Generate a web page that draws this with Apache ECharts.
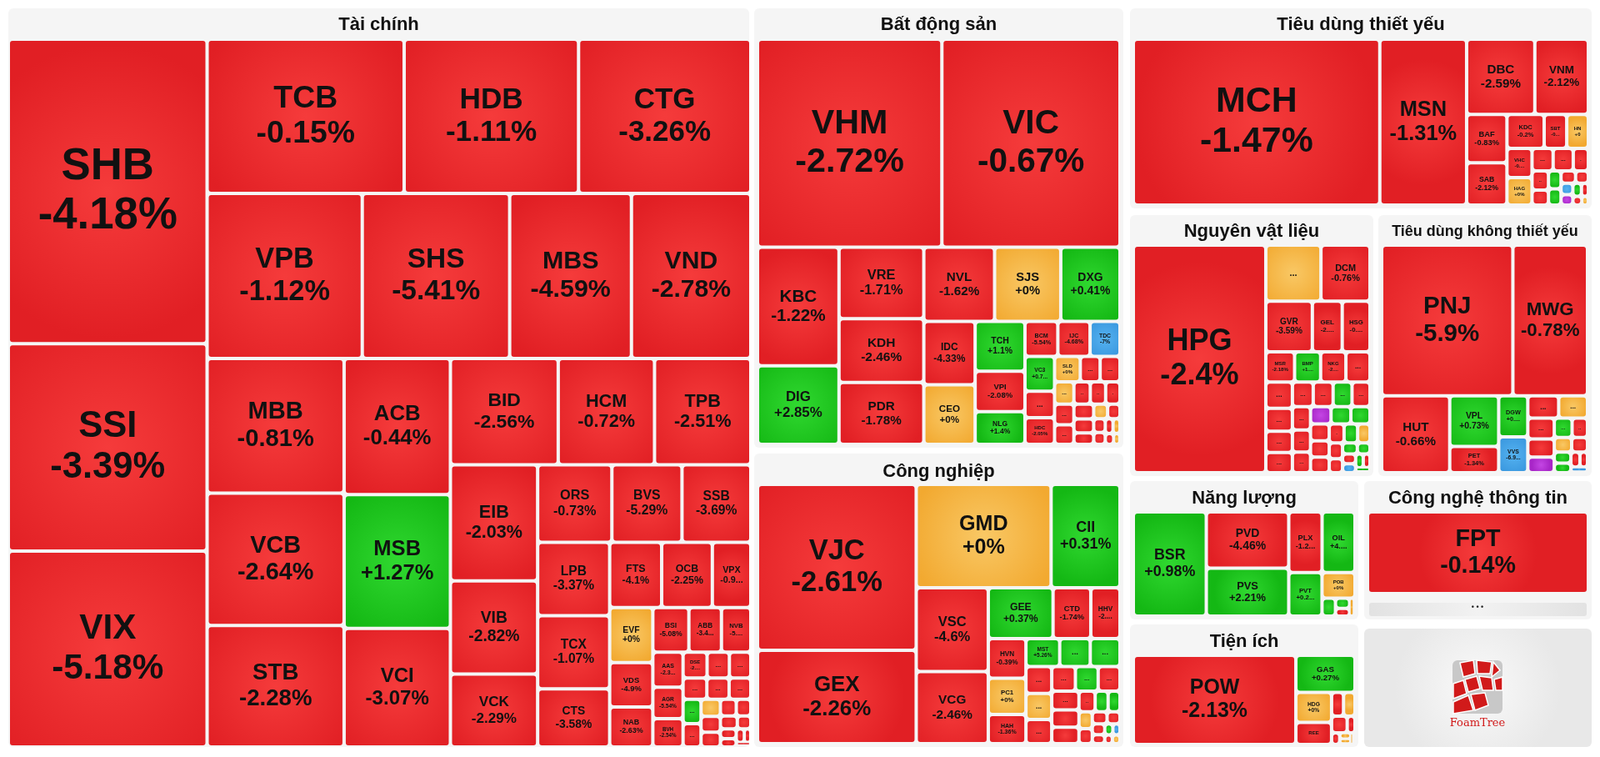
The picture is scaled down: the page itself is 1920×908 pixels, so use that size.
<!DOCTYPE html>
<html><head><meta charset="utf-8">
<script src="https://cdn.jsdelivr.net/npm/echarts@6/dist/echarts.min.js"></script>
<style>html,body{margin:0;padding:0;background:#fff}#c{width:1920px;height:908px}</style>
</head><body><div id="c"></div>
<script>
// [ticker, size (relative market cap), % change]; '...' = unlabeled small stock (change estimated from colour)
const taiChinh = [
 ['SHB',54950,-4.18],['SSI',37400,-3.39],['VIX',35340,-5.18],['TCB',27590,-0.15],
 ['HDB',24420,-1.11],['CTG',24120,-3.26],['VPB',23240,-1.12],['SHS',22080,-5.41],
 ['MBS',18240,-4.59],['VND',17880,-2.78],['MBB',16760,-0.81],['VCB',16460,-2.64],
 ['STB',15100,-2.28],['ACB',13140,-0.44],['MSB',12900,1.27],['VCI',11450,-3.07],
 ['BID',10400,-2.56],['TPB',9290,-2.51],['HCM',9290,-0.72],['EIB',9200,-2.03],
 ['VIB',7370,-2.82],['VCK',5780,-2.29],['ORS',5230,-0.73],['BVS',4940,-5.29],
 ['SSB',4850,-3.69],['TCX',4790,-1.07],['LPB',4790,-3.37],['CTS',3800,-3.58],
 ['FTS',3080,-4.1],['OCB',3000,-2.25],['VPX',2280,-0.92],['EVF',2150,0],
 ['VDS',1740,-4.9],['NAB',1570,-2.63],['BSI',1460,-5.08],['ABB',1320,-3.41],
 ['NVB',1190,-5.07],['AAS',960,-2.33],['AGR',860,-5.54],['BVH',780,-2.54],
 ['DSE',560,-2.62],['...',520,-1],['...',500,-1],['...',460,-1],['...',430,-1],
 ['...',420,-1],['...',400,1],['...',380,-1],['...',300,0],['...',280,-1],
 ['...',260,-1],['...',240,-1],['...',220,-1],['...',200,-1],['...',160,-1],
 ['...',140,-1],['...',120,-1],['...',100,-1],['...',80,-1],['...',60,-1]
];
const batDongSan = [
 ['VHM',33630,-2.72],['VIC',32490,-0.67],['KBC',8470,-1.22],['DIG',5610,2.85],
 ['VRE',5300,-1.71],['KDH',4750,-2.46],['NVL',4600,-1.62],['PDR',4600,-1.78],
 ['SJS',4300,0],['DXG',3850,0.41],['IDC',2850,-4.33],['CEO',2680,0],
 ['TCH',2170,1.1],['VPI',1770,-2.08],['NLG',1430,1.4],['BCM',1010,-5.54],
 ['IJC',990,-4.68],['TDC',920,-7],['VC3',900,0.75],['HDC',690,-2.05],
 ['...',690,-1],['SLD',570,0],['...',440,-1],['...',440,-1],['...',380,0],
 ['...',350,-1],['...',330,-1],['...',320,-1],['...',300,-1],['...',280,-1],
 ['...',260,-1],['...',240,-1],['...',200,-1],['...',180,0],['...',160,-1],
 ['...',140,-1],['...',120,-1],['...',100,-1],['...',90,0],['...',80,-1],['...',60,0]
];
const congNghiep = [
 ['VJC',23540,-2.61],['GEX',13260,-2.26],['GMD',12470,0],['CII',6370,0.31],
 ['VSC',5400,-4.6],['VCG',4650,-2.46],['GEE',2950,0.37],['CTD',1720,-1.74],
 ['HVN',1330,-0.39],['HHV',1330,-2.34],['PC1',1225,0],['HAH',980,-1.36],
 ['MST',840,5.26],['...',760,1],['...',740,1],['...',620,-1],['...',600,0],
 ['...',560,-1],['...',520,-1],['...',500,1],['...',480,-1],['...',460,-1],
 ['...',420,-1],['...',400,-1],['...',300,-1],['...',240,1],['...',220,1],
 ['...',200,0],['...',180,-1],['...',160,-1],['...',140,-1],['...',120,-1],
 ['...',100,-1],['...',80,1],['...',70,-7],['...',60,0],['...',60,-1]
];
const tieuDungThietYeu = [
 ['MCH',36250,-1.47],['MSN',12770,-1.31],['DBC',4550,-2.59],['VNM',3570,-2.12],
 ['BAF',1730,-0.83],['SAB',1510,-2.12],['KDC',1120,-0.2],['SBT',680,-0.23],
 ['VHC',650,-0.87],['HNG',650,0],['HAG',610,0],['...',420,-1],['...',400,-1],
 ['...',300,-1],['...',280,-1],['...',220,-1],['...',200,1],['...',180,1],
 ['...',160,-1],['...',140,-1],['...',120,-7],['...',110,7],['...',100,1],
 ['...',80,-1],['...',70,-1],['...',50,0]
];
const nguyenVatLieu = [
 ['HPG',25740,-2.4],['...',2640,0],['DCM',2350,-0.76],['GVR',2010,-3.59],
 ['GEL',1290,-2.23],['HSG',1200,-0.88],['MSR',740,-2.18],['BMP',670,1.71],
 ['NKG',650,-2.09],['...',620,-1],['...',600,-1],['...',520,-1],['...',480,-1],
 ['...',460,-1],['...',440,-1],['...',420,-1],['...',400,1],['...',380,-1],
 ['...',360,-1],['...',340,-1],['...',320,-1],['...',300,7],['...',290,1],
 ['...',280,1],['...',270,-1],['...',260,-1],['...',250,-1],['...',240,-1],
 ['...',220,1],['...',200,0],['...',180,-1],['...',160,-1],['...',140,1],
 ['...',120,1],['...',110,-1],['...',100,-7],['...',90,1],['...',80,-1],['...',60,1]
];
const tieuDungKhongThietYeu = [
 ['PNJ',17230,-5.9],['MWG',9800,-0.78],['HUT',4560,-0.66],['VPL',2160,0.73],
 ['PET',1120,-1.34],['DGW',1040,0.13],['VVS',910,-6.92],['...',600,-1],
 ['...',560,0],['...',480,-1],['...',420,-1],['...',360,7],['...',300,1],
 ['...',260,-1],['...',220,0],['...',200,-1],['...',160,1],['...',140,1],
 ['...',120,-1],['...',100,-1],['...',80,-7]
];
const nangLuong = [
 ['BSR',6310,0.98],['PVD',3850,-4.46],['PVS',3280,2.21],['PLX',1680,-1.25],
 ['OIL',1660,4.41],['PVT',1200,0.26],['POB',700,0],['...',200,1],
 ['...',120,1],['...',90,-1],['...',80,0]
];
const congNgheThongTin = [['FPT',16200,-0.14]];
const tienIch = [
 ['POW',12260,-2.13],['GAS',1860,0.27],['HDG',900,0],['REE',670,-1.81],
 ['...',240,-1],['...',230,0],['...',220,-1],['...',110,-1],['...',80,-1],
 ['...',60,0],['...',50,0],['...',40,0]
];
const sectorNames = ['Tài chính','Bất động sản','Công nghiệp','Tiêu dùng thiết yếu','Nguyên vật liệu','Tiêu dùng không thiết yếu','Năng lượng','Công nghệ thông tin','Tiện ích'];

// layout (pixels)
const panels = [
 {d:taiChinh, p:[10,10,889,886], c:[12,49,887,845], ty:30, fs:22},
 {d:batDongSan, p:[905,10,443,527], c:[911,49,431,482], ty:30, fs:22},
 {d:congNghiep, p:[905,544,443,352], c:[911,583,431,307], ty:566, fs:22},
 {d:tieuDungThietYeu, p:[1356,10,554,240], c:[1362,49,542,195], ty:30, fs:22},
 {d:nguyenVatLieu, p:[1356,258,292,313], c:[1362,296,280,269], ty:278, fs:22},
 {d:tieuDungKhongThietYeu, p:[1654,258,256,313], c:[1660,296,243,269], ty:278, fs:18},
 {d:nangLuong, p:[1356,577,274,166], c:[1362,616,262,121], ty:598, fs:22},
 {d:congNgheThongTin, p:[1637,577,273,166], c:[1643,616,261,94], ty:598, fs:22},
 {d:tienIch, p:[1356,749,274,147], c:[1362,788,262,103], ty:770, fs:22}
];
function grad(a,b){return {type:'radial',x:0.5,y:0.5,r:0.75,colorStops:[{offset:0,color:a},{offset:1,color:b}]};}
function tone(ch){
 if(ch>=6.9) return grad('#c446e4','#a826c8');
 if(ch<=-6.9) return grad('#55b2f0','#3a98df');
 if(ch>0) return grad('#30d830','#14b814');
 if(ch===0) return grad('#f9c865','#f2a930');
 return grad('#f53b3b','#e11f24');
}
function fmt(ch){return (ch>=0?'+':'')+ch+'%';}
const series=[]; const graphics=[];
panels.forEach((P,i)=>{
 graphics.push({type:'rect',shape:{x:P.p[0],y:P.p[1],width:P.p[2],height:P.p[3],r:6},style:{fill:'#f5f5f5'},z:-10});
 graphics.push({type:'text',x:P.p[0]+P.p[2]/2,y:P.ty,style:{text:sectorNames[i],fill:'#111',font:'bold '+P.fs+'px "Liberation Sans", Arial',align:'center',verticalAlign:'middle'},z:10});
 series.push({
  type:'treemap', left:P.c[0], top:P.c[1], width:P.c[2], height:P.c[3],
  roam:false, nodeClick:false, breadcrumb:{show:false}, animation:false,
  squareRatio:1.1,
  itemStyle:{borderColor:'#f5f5f5',borderWidth:0,gapWidth:4},
  levels:[{itemStyle:{gapWidth:4,borderWidth:0,borderColor:'#f5f5f5'}}],
  data:P.d.map(r=>{
   const dots=r[0]==='...';
   const fs=dots?Math.min(11,Math.max(6,Math.sqrt(r[1])*0.35)):Math.max(6,Math.sqrt(r[1])*0.225);
   return {name:r[0],value:r[1],change:r[2],
    itemStyle:{color:tone(r[2]),borderRadius:3,borderWidth:0},
    label:{show:true,position:'inside',align:'center',verticalAlign:'middle',
      formatter:dots?'...':r[0]+'\n'+fmt(r[2]),
      color:'#111',fontWeight:'bold',fontFamily:'"Liberation Sans", Arial',
      fontSize:fs,lineHeight:fs*1.12}};
  })
 });
});
// "more" bar under FPT
graphics.push({type:'rect',shape:{x:1643,y:723,width:261,height:16,r:3},style:{fill:{type:'linear',x:0,y:0,x2:1,y2:0,colorStops:[{offset:0,color:'#e2e2e2'},{offset:0.5,color:'#f2f2f2'},{offset:1,color:'#e2e2e2'}]}},z:5});
graphics.push({type:'text',x:1773,y:729,style:{text:'• • •',fill:'#222',font:'bold 9px sans-serif',align:'center',verticalAlign:'middle'},z:6});
// logo panel
graphics.push({type:'rect',shape:{x:1637,y:754,width:273,height:142,r:6},style:{fill:{type:'radial',x:0.5,y:0.5,r:0.7,colorStops:[{offset:0,color:'#fafafa'},{offset:1,color:'#e8e8e8'}]}},z:-10});
graphics.push({type:'rect',shape:{x:1743,y:792,width:60,height:64,r:6},style:{fill:'#c8c8c8'},z:5});
[[[1752,795],[1768,792],[1770,808],[1756,812]],[[1772,792],[1790,794],[1788,808],[1773,808]],[[1792,794],[1800,804],[1790,812]],
 [[1758,815],[1772,811],[1776,826],[1762,830]],[[1775,811],[1790,813],[1792,828],[1779,828]],[[1744,820],[1756,816],[1760,832],[1744,838]],
 [[1744,842],[1762,834],[1768,852],[1744,856]],[[1765,833],[1782,831],[1786,846],[1770,852]],[[1793,815],[1803,812],[1803,828],[1795,828]]].forEach(pts=>{
 graphics.push({type:'polygon',shape:{points:pts},style:{fill:'#d11a1a',stroke:'#fff',lineWidth:1.5},z:6});
});
graphics.push({type:'text',x:1773,y:868,style:{text:'FoamTree',fill:'#d11a1a',font:'13px "DejaVu Serif", serif',align:'center',verticalAlign:'middle'},z:6});
const chart=echarts.init(document.getElementById('c'));
chart.setOption({backgroundColor:'#fff',animation:false,tooltip:{show:false},series:series,graphic:graphics});
</script></body></html>
